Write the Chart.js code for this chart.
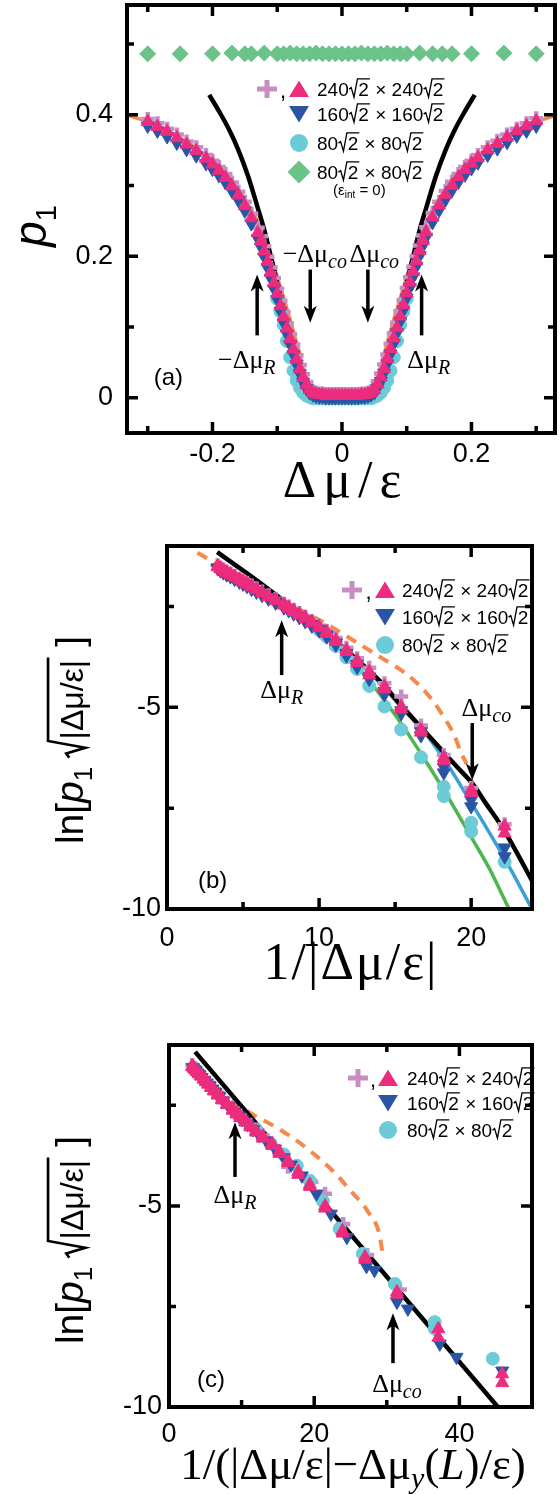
<!DOCTYPE html>
<html>
<head>
<meta charset="utf-8">
<script src="https://cdn.jsdelivr.net/npm/chart.js@4.4.1/dist/chart.umd.min.js"></script>
<style>
  body { margin: 0; background: #fff; }
  canvas { display: block; }
</style>
</head>
<body>
<canvas id="chartA" width="560" height="505"></canvas>
<canvas id="chartB" width="560" height="490"></canvas>
<canvas id="chartC" width="560" height="499"></canvas>
<script>
// ---------- panel (a): p1 against Δμ/ε ----------
const aDmu = [
  -0.30, -0.285, -0.27, -0.255, -0.24, -0.225, -0.21, -0.20, -0.19, -0.18,
  -0.17, -0.16, -0.15, -0.14, -0.13, -0.125, -0.12, -0.115, -0.11, -0.105,
  -0.10, -0.095, -0.09, -0.085, -0.08, -0.075, -0.07, -0.065, -0.06, -0.055,
  -0.05, -0.045, -0.04, -0.035, -0.03, -0.025, -0.02, -0.015, -0.01, -0.005,
  0,
  0.005, 0.01, 0.015, 0.02, 0.025, 0.03, 0.035, 0.04, 0.045, 0.05,
  0.055, 0.06, 0.065, 0.07, 0.075, 0.08, 0.085, 0.09, 0.095, 0.10,
  0.105, 0.11, 0.115, 0.12, 0.125, 0.13, 0.14, 0.15, 0.16, 0.17,
  0.18, 0.19, 0.20, 0.21, 0.225, 0.24, 0.255, 0.27, 0.285, 0.30
];
const a240 = [
  0.390, 0.383, 0.376, 0.367, 0.358, 0.349, 0.338, 0.330, 0.321, 0.311,
  0.299, 0.286, 0.271, 0.254, 0.233, 0.221, 0.207, 0.192, 0.177, 0.162,
  0.147, 0.130, 0.114, 0.098, 0.083, 0.068, 0.054, 0.040, 0.028, 0.018,
  0.011, 0.007, 0.005, 0.004, 0.004, 0.003, 0.003, 0.003, 0.003, 0.003,
  0.003,
  0.003, 0.003, 0.003, 0.003, 0.003, 0.004, 0.004, 0.005, 0.007, 0.011,
  0.019, 0.029, 0.041, 0.055, 0.069, 0.084, 0.099, 0.115, 0.131, 0.148,
  0.163, 0.178, 0.193, 0.208, 0.222, 0.234, 0.255, 0.272, 0.287, 0.300,
  0.312, 0.322, 0.331, 0.339, 0.350, 0.359, 0.368, 0.377, 0.384, 0.391
];
const a160 = [
  0.384, 0.377, 0.369, 0.360, 0.351, 0.342, 0.331, 0.323, 0.314, 0.304,
  0.292, 0.279, 0.264, 0.246, 0.225, 0.213, 0.199, 0.184, 0.169, 0.154,
  0.139, 0.122, 0.106, 0.090, 0.075, 0.061, 0.047, 0.034, 0.022, 0.013,
  0.007, 0.004, 0.002, 0.001, 0.001, 0.000, 0.000, 0.000, 0.000, 0.000,
  0.000,
  0.000, 0.000, 0.000, 0.000, 0.000, 0.001, 0.001, 0.002, 0.004, 0.007,
  0.014, 0.023, 0.035, 0.048, 0.062, 0.077, 0.092, 0.108, 0.124, 0.141,
  0.156, 0.171, 0.186, 0.201, 0.215, 0.227, 0.248, 0.265, 0.280, 0.293,
  0.305, 0.315, 0.324, 0.332, 0.343, 0.352, 0.361, 0.370, 0.377, 0.384
];
const a240plus = [
  0.394, 0.388, 0.380, 0.372, 0.362, 0.354, 0.343, 0.335, 0.326, 0.316,
  0.304, 0.291, 0.277, 0.260, 0.240, 0.228, 0.214, 0.199, 0.184, 0.169,
  0.154, 0.137, 0.121, 0.105, 0.090, 0.075, 0.060, 0.046, 0.033, 0.022,
  0.014, 0.009, 0.007, 0.006, 0.006, 0.005, 0.005, 0.005, 0.005, 0.005,
  0.005,
  0.005, 0.005, 0.005, 0.005, 0.005, 0.006, 0.006, 0.007, 0.009, 0.014,
  0.023, 0.034, 0.047, 0.061, 0.076, 0.091, 0.106, 0.122, 0.138, 0.155,
  0.170, 0.185, 0.200, 0.215, 0.229, 0.241, 0.261, 0.277, 0.292, 0.305,
  0.316, 0.326, 0.335, 0.343, 0.354, 0.363, 0.372, 0.380, 0.388, 0.395
];
const a80Dmu = [
  -0.10, -0.095, -0.09, -0.085, -0.08, -0.075, -0.07, -0.065, -0.06, -0.055,
  -0.05, -0.045, -0.04, -0.035, -0.03, -0.025, -0.02, -0.015, -0.01, -0.005,
  0,
  0.005, 0.01, 0.015, 0.02, 0.025, 0.03, 0.035, 0.04, 0.045, 0.05,
  0.055, 0.06, 0.065, 0.07, 0.075, 0.08, 0.085, 0.09, 0.095, 0.10
];
const a80 = [
  0.140, 0.122, 0.103, 0.080, 0.057, 0.038, 0.024, 0.014, 0.007, 0.003,
  0.001, -0.001, -0.001, -0.001, -0.001, -0.001, -0.001, -0.001, -0.001, -0.001,
  -0.001,
  -0.001, -0.001, -0.001, -0.001, -0.001, -0.001, -0.001, -0.001, -0.001, 0.001,
  0.003, 0.007, 0.014, 0.024, 0.038, 0.057, 0.080, 0.103, 0.122, 0.140
];
const aFreeDmu = [
  -0.30, -0.25, -0.20, -0.17, -0.15, -0.14, -0.12,
  -0.10, -0.09, -0.08, -0.07, -0.06, -0.05, -0.04, -0.03, -0.02, -0.01,
  0,
  0.01, 0.02, 0.03, 0.04, 0.05, 0.06, 0.07, 0.08, 0.09, 0.10,
  0.12, 0.14, 0.155, 0.17, 0.20, 0.25, 0.30
];
const aFree = [
  0.486, 0.486, 0.486, 0.487, 0.486, 0.486, 0.487,
  0.486, 0.486, 0.487, 0.486, 0.486, 0.486, 0.487, 0.486, 0.486, 0.486,
  0.486,
  0.486, 0.486, 0.487, 0.486, 0.486, 0.486, 0.487, 0.486, 0.486, 0.486,
  0.487, 0.486, 0.486, 0.486, 0.486, 0.487, 0.486
];
// orange fit, two branches
const aFitDmuL = [-0.335, -0.30, -0.28, -0.25, -0.22, -0.20, -0.18, -0.16, -0.14, -0.13, -0.12, -0.11, -0.10, -0.09, -0.08, -0.07, -0.062];
const aFitL = [0.400, 0.390, 0.382, 0.367, 0.349, 0.334, 0.316, 0.294, 0.265, 0.248, 0.226, 0.200, 0.171, 0.141, 0.110, 0.078, 0.052];
const aFitDmuR = [0.062, 0.07, 0.08, 0.09, 0.10, 0.11, 0.12, 0.13, 0.14, 0.16, 0.18, 0.20, 0.22, 0.25, 0.28, 0.30, 0.335];
const aFitR = [0.052, 0.078, 0.110, 0.141, 0.171, 0.200, 0.226, 0.248, 0.265, 0.294, 0.316, 0.334, 0.349, 0.367, 0.382, 0.390, 0.400];
// black scaling curve, two branches
const aScalDmuL = [-0.205, -0.19, -0.175, -0.16, -0.145, -0.13, -0.12, -0.11, -0.10, -0.09, -0.083, -0.076, -0.07];
const aScalL = [0.428, 0.405, 0.380, 0.350, 0.313, 0.268, 0.237, 0.200, 0.162, 0.123, 0.090, 0.058, 0.035];
const aScalDmuR = [0.07, 0.076, 0.083, 0.09, 0.10, 0.11, 0.12, 0.13, 0.145, 0.16, 0.175, 0.19, 0.205];
const aScalR = [0.035, 0.058, 0.090, 0.123, 0.162, 0.200, 0.237, 0.268, 0.313, 0.350, 0.380, 0.405, 0.428];

// ---------- panel (b): ln[p1 sqrt|Δμ/ε|] against 1/|Δμ/ε| ----------
const bX = [3.33, 3.51, 3.70, 3.92, 4.17, 4.44, 4.76, 5.00, 5.26, 5.56, 5.88, 6.25, 6.67, 7.14, 7.69, 8.00,
  8.33, 8.70, 9.09, 9.52, 10.0, 10.5, 11.1, 11.8, 12.5, 13.3, 14.3, 15.4, 16.7, 18.2, 20.0, 22.2];
const b240Neg = [-1.50, -1.55, -1.60, -1.65, -1.70, -1.76, -1.83, -1.88, -1.93, -2.00, -2.07, -2.15, -2.24, -2.33, -2.45, -2.52,
  -2.60, -2.68, -2.77, -2.88, -3.00, -3.13, -3.33, -3.58, -3.84, -4.12, -4.48, -4.98, -5.56, -6.25, -7.05, -7.95];
const b240Pos = [-1.52, -1.57, -1.61, -1.67, -1.72, -1.78, -1.84, -1.90, -1.95, -2.02, -2.09, -2.17, -2.26, -2.36, -2.47, -2.55,
  -2.63, -2.71, -2.80, -2.91, -3.03, -3.17, -3.37, -3.62, -3.90, -4.20, -4.55, -5.05, -5.62, -6.33, -7.12, -8.12];
const b160Neg = [-1.54, -1.59, -1.64, -1.69, -1.74, -1.80, -1.87, -1.92, -1.97, -2.04, -2.11, -2.19, -2.28, -2.38, -2.50, -2.57,
  -2.65, -2.73, -2.83, -2.94, -3.06, -3.20, -3.40, -3.66, -3.93, -4.24, -4.60, -5.08, -5.60, -6.48, -7.30, -8.48];
const b160Pos = [-1.56, -1.61, -1.66, -1.71, -1.76, -1.82, -1.89, -1.94, -2.00, -2.07, -2.14, -2.22, -2.31, -2.41, -2.53, -2.60,
  -2.68, -2.77, -2.87, -2.98, -3.10, -3.25, -3.45, -3.72, -4.00, -4.30, -4.68, -5.15, -5.70, -6.62, -7.46, -8.70];
const b240plus = [-1.48, -1.53, -1.58, -1.63, -1.68, -1.74, -1.81, -1.86, -1.91, -1.98, -2.05, -2.13, -2.22, -2.31, -2.43, -2.50,
  -2.58, -2.66, -2.75, -2.86, -2.98, -3.10, -3.28, -3.52, -3.78, -4.02, -4.40, -4.73, -5.45, -6.18, -7.00, -7.90];
const b80X = [10.0, 10.5, 11.1, 11.8, 12.5, 13.3, 14.3, 15.4, 16.7, 18.2, 18.2, 20.0, 20.0, 22.2];
const b80 = [-3.08, -3.25, -3.48, -3.76, -4.05, -4.47, -4.98, -5.55, -6.24, -6.97, -7.20, -7.86, -8.08, -8.83];
const bFitX = [2.0, 4.0, 6.0, 8.0, 10.0, 12.0, 14.0, 16.0, 17.4, 18.3, 18.9, 19.3, 19.7];
const bFit = [-1.17, -1.60, -2.05, -2.45, -2.83, -3.28, -3.75, -4.25, -4.80, -5.30, -5.70, -6.10, -6.40];
const bScalX = [3.3, 6.0, 8.0, 10.0, 12.0, 14.0, 15.4, 17.0, 19.0, 20.1, 21.0, 22.0, 23.0, 24.0];
const bScal = [-1.15, -1.88, -2.45, -3.03, -3.65, -4.35, -4.95, -5.62, -6.45, -6.90, -7.40, -7.95, -8.60, -9.30];
const bScal160X = [8.0, 10.0, 12.0, 14.0, 15.4, 17.0, 18.5, 19.7, 21.0, 22.5, 23.9];
const bScal160 = [-2.47, -3.05, -3.68, -4.40, -5.00, -5.65, -6.45, -7.18, -7.98, -8.95, -9.93];
const bScal80X = [7.0, 8.0, 9.0, 10.0, 11.0, 12.0, 13.0, 14.0, 15.4, 16.7, 18.2, 20.1, 21.2, 22.3, 22.5];
const bScal80 = [-2.20, -2.45, -2.72, -3.02, -3.38, -3.78, -4.20, -4.68, -5.40, -6.15, -7.05, -8.28, -9.00, -9.85, -10.0];

// ---------- panel (c): against 1/(|Δμ/ε| - Δμy(L)/ε) ----------
const cX = [3.2, 3.4, 3.6, 3.85, 4.1, 4.4, 4.8, 5.1, 5.4, 5.8, 6.2, 6.7, 7.3, 8.0, 8.8, 9.3,
  9.8, 10.5, 11.2, 12.0, 12.9, 14.2, 15.2, 16.4, 17.8, 19.4, 21.5, 23.9, 27.0, 31.4, 37.1, 45.9];
const c240Neg = [-1.52, -1.56, -1.60, -1.65, -1.70, -1.76, -1.84, -1.90, -1.96, -2.04, -2.12, -2.22, -2.34, -2.46, -2.60, -2.68,
  -2.77, -2.88, -3.00, -3.13, -3.27, -3.45, -3.65, -3.88, -4.15, -4.47, -5.00, -5.62, -6.27, -7.14, -8.06, -9.18];
const c240Pos = [-1.54, -1.58, -1.62, -1.67, -1.72, -1.78, -1.86, -1.92, -1.98, -2.06, -2.15, -2.25, -2.37, -2.49, -2.63, -2.72,
  -2.81, -2.92, -3.04, -3.17, -3.32, -3.50, -3.70, -3.93, -4.22, -4.52, -5.06, -5.68, -6.33, -7.20, -8.27, -9.40];
const c160X = [3.3, 3.5, 3.7, 3.95, 4.2, 4.5, 4.9, 5.2, 5.6, 6.0, 6.4, 6.9, 7.5, 8.2, 9.0, 9.6, 10.1, 10.8,
  11.6, 12.4, 13.4, 14.6, 15.8, 16.8, 18.3, 20.3, 22.3, 24.5, 27.2, 28.3, 31.4, 32.9, 37.3, 39.6, 45.9];
const c160 = [-1.56, -1.60, -1.64, -1.69, -1.74, -1.80, -1.88, -1.94, -2.01, -2.09, -2.17, -2.27, -2.39, -2.52, -2.66, -2.76, -2.85, -2.97,
  -3.10, -3.24, -3.38, -3.58, -3.80, -3.98, -4.25, -4.70, -5.20, -5.78, -6.50, -6.60, -7.39, -7.56, -8.43, -8.76, -9.10];
const c80X = [12.0, 14.0, 15.8, 17.6, 19.4, 21.2, 23.5, 26.7, 31.1, 36.6, 36.6, 44.6];
const c80 = [-3.10, -3.45, -3.72, -4.00, -4.38, -4.88, -5.57, -6.19, -6.94, -7.89, -8.05, -8.80];
const cPlusX = [3.2, 3.6, 4.1, 4.8, 5.4, 6.2, 7.3, 8.8, 9.8, 11.2, 12.9, 14.5, 16.4, 19.6, 21.5, 24.0, 27.3, 31.8];
const cPlus = [-1.50, -1.58, -1.68, -1.82, -1.94, -2.10, -2.32, -2.58, -2.75, -2.98, -3.25, -3.55, -4.03, -4.40, -4.70, -5.45, -6.22, -7.08];
const cFitX = [2.9, 6.0, 9.0, 11.5, 15.0, 19.0, 22.5, 25.0, 27.5, 29.0, 29.5];
const cFit = [-1.40, -1.95, -2.42, -2.72, -3.07, -3.57, -4.12, -4.62, -5.17, -5.72, -6.30];
const cScalX = [3.6, 45.3];
const cScal = [-1.17, -10.0];

// tick labels
const aXMajor = [-0.2, 0, 0.2], aXMinor = [-0.3, -0.1, 0.1, 0.3];
const aYMajor = [0, 0.2, 0.4], aYMinor = [0.1, 0.3, 0.5];
const bXMajor = [0, 10, 20], bXMinor = [5, 15];
const bYMajor = [-10, -5], bYMinor = [-7.5, -2.5];
const cXMajor = [0, 20, 40], cXMinor = [10, 30];
const cYMajor = [-10, -5], cYMinor = [-7.5, -2.5];
const legendSizes = ['240', '160', '80', '80'];

// ---------- styling ----------
const SANS = '"Liberation Sans", Arial, sans-serif';
const SERIF = '"Liberation Serif", "Times New Roman", serif';
const PINK = '#ec2c7c', BLUE = '#2a54a6', CYAN = '#6bcbd7', PURPLE = '#c78ec3', GREEN = '#6cc38a';
const ORANGE = '#f5894b', LBLUE = '#3aa0d6', LGREEN = '#4fb54f';

const fnt = (size, family, style) => (style ? style + ' ' : '') + size + 'px ' + family;
const pts = (xs, ys) => xs.map((x, i) => ({ x: x, y: ys[i] }));

function markers(xs, ys, kind, order) {
  const st = {
    up: { pointStyle: 'triangle', pointRadius: 7.5, color: PINK },
    down: { pointStyle: 'triangle', pointRadius: 7.5, color: BLUE, pointRotation: 180 },
    circle: { pointStyle: 'circle', pointRadius: 6.5, color: CYAN },
    diamond: { pointStyle: 'rectRot', pointRadius: 8, color: GREEN },
    plus: { pointStyle: 'cross', pointRadius: 7, color: PURPLE, pointBorderWidth: 4.5 }
  }[kind];
  return {
    data: pts(xs, ys), showLine: false, order: order,
    pointStyle: st.pointStyle, pointRadius: st.pointRadius, pointRotation: st.pointRotation || 0,
    pointBackgroundColor: st.color, pointBorderColor: st.color, pointBorderWidth: st.pointBorderWidth || 1
  };
}
function curve(xs, ys, color, width, dash) {
  return {
    data: pts(xs, ys), showLine: true, pointRadius: 0, borderColor: color, borderWidth: width,
    borderDash: dash || [], cubicInterpolationMode: 'monotone', fill: false, order: 10
  };
}

// rich text: list of {t, font, dy, sp} or {rad: [...], size}
function textWidth(ctx, s) {
  ctx.font = s.font;
  return ctx.measureText(s.t).width + (s.sp || 0) * (s.t.length - 1);
}
function segWidth(ctx, s) {
  if (s.rad) return s.size * 0.5 + richWidth(ctx, s.rad) + s.size * 0.06;
  return textWidth(ctx, s);
}
function richWidth(ctx, segs) { return segs.reduce((w, s) => w + segWidth(ctx, s), 0); }
function drawSegs(ctx, x, y, segs) {
  segs.forEach(s => {
    if (s.rad) {
      const z = s.size, inner = richWidth(ctx, s.rad), top = y - (s.top || 0.88) * z;
      ctx.beginPath();
      ctx.moveTo(x + 0.02 * z, y - 0.36 * z);
      ctx.lineTo(x + 0.13 * z, y - 0.44 * z);
      ctx.lineTo(x + 0.28 * z, y + 0.06 * z);
      ctx.lineTo(x + 0.46 * z, top);
      ctx.lineTo(x + 0.5 * z + inner + 0.06 * z, top);
      ctx.lineWidth = Math.max(1.3, z * 0.07);
      ctx.lineJoin = 'miter';
      ctx.stroke();
      drawSegs(ctx, x + 0.5 * z, y, s.rad);
      x += 0.5 * z + inner + 0.06 * z;
    } else {
      ctx.font = s.font;
      if (s.sp) {
        for (const ch of s.t) {
          ctx.fillText(ch, x, y + (s.dy || 0));
          x += ctx.measureText(ch).width + s.sp;
        }
        x -= s.sp;
      } else {
        ctx.fillText(s.t, x, y + (s.dy || 0));
        x += ctx.measureText(s.t).width;
      }
    }
  });
}
function drawRich(ctx, x, y, segs, align) {
  const w = richWidth(ctx, segs);
  ctx.textAlign = 'left';
  ctx.textBaseline = 'alphabetic';
  drawSegs(ctx, align === 'center' ? x - w / 2 : x, y, segs);
}

function dmu(neg, sub) {
  return [{ t: (neg ? '−' : '') + 'Δμ', font: fnt(26, SERIF) }, { t: sub, font: fnt(20, SERIF, 'italic'), dy: 6 }];
}
function lnTitle() {
  return [
    { t: 'ln[', font: fnt(39, SANS) },
    { t: 'p', font: fnt(39, SANS, 'italic') },
    { t: '1', font: fnt(26, SANS), dy: 9 },
    { t: ' ', font: fnt(30, SANS) },
    { rad: [{ t: '|Δμ/ε|', font: fnt(32, SANS) }], size: 38, top: 0.92 },
    { t: ' ]', font: fnt(39, SANS) }
  ];
}
function sizeText(n, size) {
  const F = fnt(size, SANS);
  return [{ t: n, font: F }, { rad: [{ t: '2', font: F }], size: size, top: 0.9 }, { t: ' × ', font: F },
    { t: n, font: F }, { rad: [{ t: '2', font: F }], size: size, top: 0.9 }];
}

function drawSymbol(ctx, kind, x, y) {
  ctx.save();
  ctx.beginPath();
  if (kind === 'up') {
    ctx.fillStyle = PINK;
    ctx.moveTo(x, y - 8.5); ctx.lineTo(x + 10, y + 8); ctx.lineTo(x - 10, y + 8);
  } else if (kind === 'down') {
    ctx.fillStyle = BLUE;
    ctx.moveTo(x, y + 8.5); ctx.lineTo(x + 10, y - 8); ctx.lineTo(x - 10, y - 8);
  } else if (kind === 'circle') {
    ctx.fillStyle = CYAN;
    ctx.arc(x, y, 9, 0, Math.PI * 2);
  } else if (kind === 'diamond') {
    ctx.fillStyle = GREEN;
    ctx.moveTo(x, y - 11.5); ctx.lineTo(x + 11.5, y); ctx.lineTo(x, y + 11.5); ctx.lineTo(x - 11.5, y);
  } else if (kind === 'plus') {
    ctx.strokeStyle = PURPLE; ctx.lineWidth = 5;
    ctx.moveTo(x - 10, y); ctx.lineTo(x + 10, y); ctx.moveTo(x, y - 9); ctx.lineTo(x, y + 9);
    ctx.stroke(); ctx.restore(); return;
  }
  ctx.closePath(); ctx.fill();
  ctx.restore();
}

function arrow(ctx, x, y0, y1) {
  const dir = y1 > y0 ? 1 : -1, head = 17, half = 6.5;
  ctx.beginPath();
  ctx.moveTo(x, y0); ctx.lineTo(x, y1 - dir * head * 0.7);
  ctx.lineWidth = 3.5; ctx.stroke();
  ctx.beginPath();
  ctx.moveTo(x, y1);
  ctx.lineTo(x + half, y1 - dir * head);
  ctx.lineTo(x, y1 - dir * head * 0.72);
  ctx.lineTo(x - half, y1 - dir * head);
  ctx.closePath(); ctx.fill();
}

function decorate(chart, spec) {
  const ctx = chart.ctx, a = chart.chartArea, sx = chart.scales.x, sy = chart.scales.y;
  ctx.save();
  ctx.strokeStyle = '#000';
  ctx.fillStyle = '#000';
  ctx.lineCap = 'butt';

  // inward ticks on all four sides
  ctx.lineWidth = 3.5;
  const xt = (vals, len) => vals.forEach(v => {
    const p = sx.getPixelForValue(v);
    ctx.beginPath();
    ctx.moveTo(p, a.bottom); ctx.lineTo(p, a.bottom - len);
    ctx.moveTo(p, a.top); ctx.lineTo(p, a.top + len);
    ctx.stroke();
  });
  const yt = (vals, len) => vals.forEach(v => {
    const p = sy.getPixelForValue(v);
    ctx.beginPath();
    ctx.moveTo(a.left, p); ctx.lineTo(a.left + len, p);
    ctx.moveTo(a.right, p); ctx.lineTo(a.right - len, p);
    ctx.stroke();
  });
  xt(spec.x.major, 11); xt(spec.x.minor, 7);
  yt(spec.y.major, 11); yt(spec.y.minor, 7);
  ctx.lineWidth = 4;
  ctx.strokeRect(a.left, a.top, a.right - a.left, a.bottom - a.top);

  // arrows and their labels
  spec.arrows.forEach(ar => arrow(ctx, sx.getPixelForValue(ar.x), sy.getPixelForValue(ar.y0), sy.getPixelForValue(ar.y1)));
  spec.labels.forEach(l => drawRich(ctx, sx.getPixelForValue(l.x), sy.getPixelForValue(l.y), l.segs, 'center'));

  // panel tag
  ctx.font = fnt(24, SANS);
  ctx.textAlign = 'center';
  ctx.textBaseline = 'middle';
  ctx.fillText(spec.tag.t, sx.getPixelForValue(spec.tag.x), sy.getPixelForValue(spec.tag.y));

  // legend
  const lg = spec.legend;
  lg.rows.forEach((ry, i) => {
    const y = a.top + ry;
    if (i === 0) {
      drawSymbol(ctx, 'plus', a.left + lg.plusX, y);
      ctx.font = fnt(22, SANS); ctx.textAlign = 'center'; ctx.textBaseline = 'alphabetic';
      ctx.fillText(',', a.left + (lg.plusX + lg.symX) / 2, y + 9);
    }
    drawSymbol(ctx, ['up', 'down', 'circle', 'diamond'][i], a.left + lg.symX, y);
    drawRich(ctx, a.left + lg.textX, y + 7, sizeText(legendSizes[i], 19), 'left');
  });
  if (lg.note) {
    drawRich(ctx, a.left + lg.textX + 16, a.top + lg.note, [
      { t: '(ε', font: fnt(15, SANS) }, { t: 'int', font: fnt(10, SANS), dy: 3 }, { t: ' = 0)', font: fnt(15, SANS) }
    ], 'left');
  }

  // axis titles
  drawRich(ctx, spec.xTitle.x, spec.xTitle.y, spec.xTitle.segs, 'center');
  ctx.save();
  ctx.translate(spec.yTitle.x, spec.yTitle.y);
  ctx.rotate(-Math.PI / 2);
  drawRich(ctx, 0, 0, spec.yTitle.segs, 'center');
  ctx.restore();
  ctx.restore();
}

function makeChart(spec) {
  const fr = spec.frame;
  const axis = (ax, isX) => ({
    type: 'linear', min: ax.min, max: ax.max,
    grid: { display: false, drawTicks: false },
    border: { display: false },
    ticks: {
      color: '#000', padding: ax.pad, autoSkip: false, maxRotation: 0,
      font: { family: SANS, size: 27 },
      callback: v => String(v)
    },
    afterBuildTicks: s => { s.ticks = ax.major.map(v => ({ value: v })); },
    afterFit: s => {
      if (isX) s.height = spec.H - fr.bottom; else s.width = fr.left;
      s.paddingTop = 0; s.paddingBottom = 0; s.paddingLeft = 0; s.paddingRight = 0;
    }
  });
  return new Chart(document.getElementById(spec.canvas), {
    type: 'scatter',
    data: { datasets: spec.datasets },
    options: {
      responsive: false, animation: false, devicePixelRatio: 1, events: [],
      layout: { autoPadding: false, padding: { left: 0, top: fr.top, right: spec.W - fr.right, bottom: 0 } },
      plugins: { legend: { display: false }, tooltip: { enabled: false } },
      scales: { x: axis(spec.x, true), y: axis(spec.y, false) }
    },
    plugins: [{ id: 'decor', afterDatasetsDraw: chart => decorate(chart, spec) }]
  });
}

window.onload = function () {
  makeChart({
    canvas: 'chartA', W: 560, H: 505,
    frame: { left: 127, right: 555, top: 5, bottom: 433 },
    x: { min: -0.332, max: 0.329, major: aXMajor, minor: aXMinor, pad: 5 },
    y: { min: -0.05, max: 0.555, major: aYMajor, minor: aYMinor, pad: 14 },
    datasets: [
      markers(aDmu, a240, 'up', 1),
      markers(aFreeDmu, aFree, 'diamond', 1),
      markers(aDmu, a160, 'down', 2),
      markers(a80Dmu, a80, 'circle', 3),
      markers(aDmu, a240plus, 'plus', 4),
      curve(aScalDmuL, aScalL, '#000', 4.5),
      curve(aScalDmuR, aScalR, '#000', 4.5),
      curve(aFitDmuL, aFitL, ORANGE, 3.5),
      curve(aFitDmuR, aFitR, ORANGE, 3.5)
    ],
    arrows: [
      { x: -0.131, y0: 0.088, y1: 0.174 },
      { x: -0.049, y0: 0.181, y1: 0.106 },
      { x: 0.040, y0: 0.181, y1: 0.106 },
      { x: 0.123, y0: 0.088, y1: 0.174 }
    ],
    labels: [
      { x: -0.147, y: 0.042, segs: dmu(true, 'R') },
      { x: -0.042, y: 0.192, segs: dmu(true, 'co') },
      { x: 0.050, y: 0.192, segs: dmu(false, 'co') },
      { x: 0.134, y: 0.042, segs: dmu(false, 'R') }
    ],
    tag: { t: '(a)', x: -0.268, y: 0.027 },
    legend: { plusX: 140, symX: 172, textX: 190, rows: [84, 109, 138, 167], note: 190 },
    xTitle: { x: 342, y: 497, segs: [{ t: 'Δμ/ε', font: fnt(52, SERIF), sp: 7 }] },
    yTitle: { x: 46, y: 226, segs: [{ t: 'p', font: fnt(46, SANS, 'italic') }, { t: '1', font: fnt(29, SANS), dy: 10 }] }
  });

  makeChart({
    canvas: 'chartB', W: 560, H: 490,
    frame: { left: 167, right: 532, top: 41, bottom: 404 },
    x: { min: 0, max: 24, major: bXMajor, minor: bXMinor, pad: 13 },
    y: { min: -10, max: -1, major: bYMajor, minor: bYMinor, pad: 6 },
    datasets: [
      markers(bX, b240Neg, 'up', 1),
      markers(bX, b240Pos, 'up', 1),
      markers(bX, b160Neg, 'down', 2),
      markers(bX, b160Pos, 'down', 2),
      markers(b80X, b80, 'circle', 3),
      markers(bX, b240plus, 'plus', 4),
      curve(bScalX, bScal, '#000', 4.5),
      curve(bScal160X, bScal160, LBLUE, 3.5),
      curve(bScal80X, bScal80, LGREEN, 3.5),
      curve(bFitX, bFit, ORANGE, 4, [11, 8])
    ],
    arrows: [
      { x: 7.54, y0: -4.2, y1: -2.84 },
      { x: 20.07, y0: -5.39, y1: -6.81 }
    ],
    labels: [
      { x: 7.54, y: -4.77, segs: dmu(false, 'R') },
      { x: 21.0, y: -5.22, segs: dmu(false, 'co') }
    ],
    tag: { t: '(b)', x: 3.0, y: -9.31 },
    legend: { plusX: 185, symX: 218, textX: 235, rows: [44, 71, 99] },
    xTitle: { x: 350, y: 474, segs: [{ t: '1/|Δμ/ε|', font: fnt(52, SERIF), sp: 2 }] },
    yTitle: { x: 83, y: 235, segs: lnTitle() }
  });

  makeChart({
    canvas: 'chartC', W: 560, H: 499,
    frame: { left: 169, right: 532, top: 50, bottom: 412 },
    x: { min: 0, max: 50, major: cXMajor, minor: cXMinor, pad: 11 },
    y: { min: -10, max: -1, major: cYMajor, minor: cYMinor, pad: 7 },
    datasets: [
      markers(cX, c240Neg, 'up', 1),
      markers(cX, c240Pos, 'up', 1),
      markers(c160X, c160, 'down', 2),
      markers(c80X, c80, 'circle', 3),
      markers(cPlusX, cPlus, 'plus', 4),
      curve(cScalX, cScal, '#000', 4.5),
      curve(cFitX, cFit, ORANGE, 4, [11, 8])
    ],
    arrows: [
      { x: 9.09, y0: -4.28, y1: -2.92 },
      { x: 30.85, y0: -8.91, y1: -7.67 }
    ],
    labels: [
      { x: 9.09, y: -4.93, segs: dmu(false, 'R') },
      { x: 31.4, y: -9.63, segs: dmu(false, 'co') }
    ],
    tag: { t: '(c)', x: 5.8, y: -9.33 },
    legend: { plusX: 189, symX: 219, textX: 238, rows: [33, 58, 85] },
    xTitle: { x: 353, y: 484, segs: [
      { t: '1/(|Δμ/ε|−Δμ', font: fnt(45, SERIF) },
      { t: 'y', font: fnt(30, SERIF, 'italic'), dy: 9 },
      { t: '(', font: fnt(45, SERIF) },
      { t: 'L', font: fnt(45, SERIF, 'italic') },
      { t: ')/ε)', font: fnt(45, SERIF) }
    ] },
    yTitle: { x: 83, y: 245, segs: lnTitle() }
  });
};
</script>
</body>
</html>
